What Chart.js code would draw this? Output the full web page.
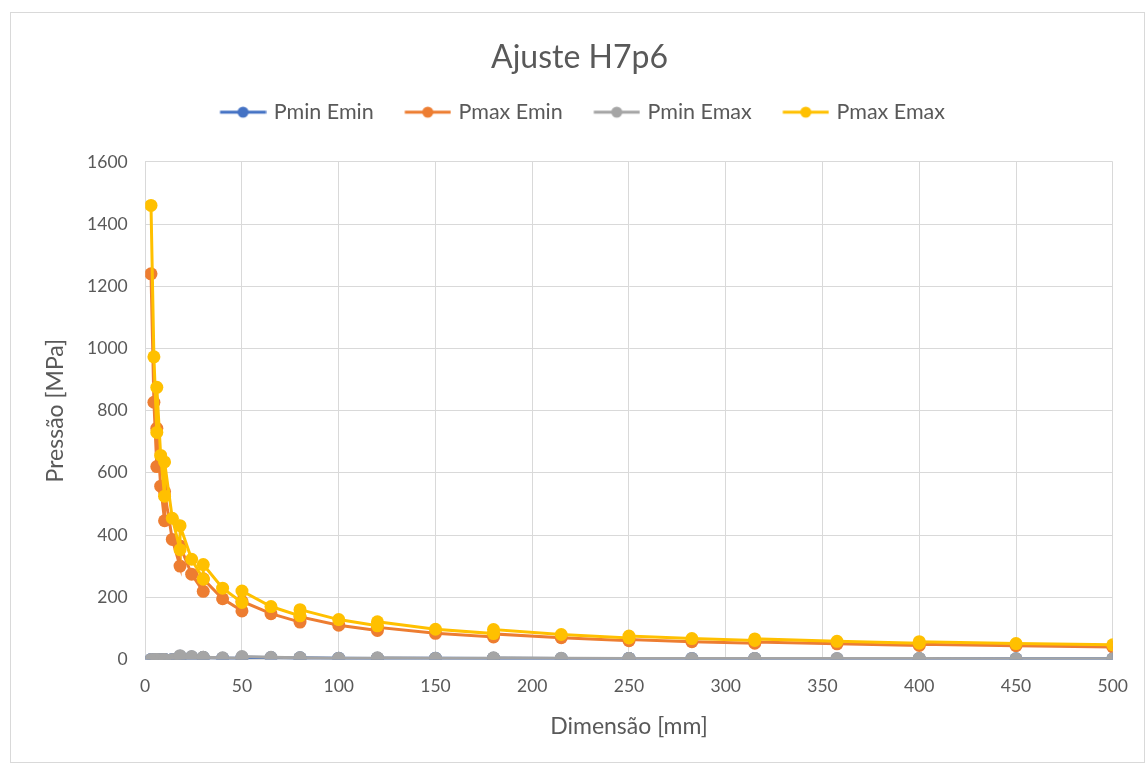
<!DOCTYPE html>
<html>
<head>
<meta charset="utf-8">
<title>Ajuste H7p6</title>
<script src="https://cdn.jsdelivr.net/npm/chart.js@4.4.1/dist/chart.umd.min.js"></script>
<style>
    html, body { margin: 0; padding: 0; background: #ffffff; overflow: hidden; }
    #frame {
        position: absolute; left: 10px; top: 12px;
        width: 1135px; height: 751px;
        border: 1px solid #d9d9d9; box-sizing: border-box;
    }
</style>
</head>
<body>
<div id="frame"><canvas id="fitChart"></canvas></div>
<script>
// Ajuste H7p6 - pressao de montagem vs dimensao nominal
// valores

const dims = [3, 4.5, 6, 6, 8, 10, 10, 14, 18, 18, 24, 30, 30, 40, 50, 50, 65, 80,
    80, 100, 120, 120, 150, 180, 180, 215, 250, 250, 282.5, 315, 315, 357.5, 400, 400, 450, 500];

const pminEmin = [0, 0, 0, 0, 0, 0, 0, 0, 0, 10, 8, 6, 6, 4, 4, 7, 6, 4,
    5, 4, 3, 4, 4, 3, 4, 3, 3, 3, 3, 2, 3, 2, 2, 2, 2, 2];
const pmaxEmin = [1240, 827, 620, 743, 557, 446, 540, 386, 300, 365, 274, 219, 259, 195, 156, 187, 147, 120,
    137, 110, 93, 103, 84, 72, 82, 70, 60, 64, 57, 52, 56, 50, 45, 49, 44, 40];
const pminEmax = [0, 0, 0, 0, 0, 0, 0, 0, 0, 12, 9, 7, 7, 5, 4, 9, 7, 5,
    5, 4, 4, 5, 4, 4, 5, 4, 3, 3, 3, 3, 3, 3, 3, 3, 2, 2];
const pmaxEmax = [1460, 973, 730, 875, 656, 525, 635, 454, 353, 430, 322, 258, 305, 229, 183, 220, 170, 140,
    160, 128, 108, 121, 97, 83, 96, 80, 69, 75, 67, 61, 66, 58, 52, 57, 51, 47];

const seriesNames = ['Pmin Emin', 'Pmax Emin', 'Pmin Emax', 'Pmax Emax'];
const seriesColors = ['#4472c4', '#ed7d31', '#a5a5a5', '#ffc000'];
const seriesValues = [pminEmin, pmaxEmin, pminEmax, pmaxEmax];

const xTicks = [0, 50, 100, 150, 200, 250, 300, 350, 400, 450, 500];
const yTicks = [0, 200, 400, 600, 800, 1000, 1200, 1400, 1600];

const textColor = '#595959';
const gridColor = '#d9d9d9';
const fontFamily = 'Lato, "Open Sans", sans-serif';

// legend icon: short line with a dot, like Excel
// (transparent strip on the left gives a bit more space between items)
function makeIcon(color) {
    const c = document.createElement('canvas');
    c.width = 56;
    c.height = 14;
    const g = c.getContext('2d');
    g.strokeStyle = color;
    g.lineWidth = 3;
    g.beginPath();
    g.moveTo(9.5, 7);
    g.lineTo(55.5, 7);
    g.stroke();
    g.fillStyle = color;
    g.beginPath();
    g.arc(32.5, 7, 5.5, 0, Math.PI * 2);
    g.fill();
    return c;
}
const legendIcons = seriesColors.map(makeIcon);

// extra room under the legend
const legendMargin = {
    id: 'legendMargin',
    beforeInit(chart) {
        const origFit = chart.legend.fit;
        chart.legend.fit = function fit() {
            origFit.bind(chart.legend)();
            this.height += 29;
        };
    }
};

const datasets = seriesNames.map((name, i) => ({
    label: name,
    data: dims.map((d, k) => ({ x: d, y: seriesValues[i][k] })),
    borderColor: seriesColors[i],
    backgroundColor: seriesColors[i],
    pointBackgroundColor: seriesColors[i],
    pointBorderColor: seriesColors[i],
    borderWidth: 3,
    pointRadius: 6.5,
    pointBorderWidth: 0,
    tension: 0,
    order: seriesNames.length - i // last series drawn on top
}));

Chart.defaults.font.family = fontFamily;
Chart.defaults.color = textColor;

const ctx = document.getElementById('fitChart').getContext('2d');
const fitChart = new Chart(ctx, {
    type: 'line',
    data: { datasets: datasets },
    options: {
        responsive: true,
        maintainAspectRatio: false,
        animation: false,
        layout: { padding: { left: 31, right: 27, top: 14, bottom: 18 } },
        plugins: {
            title: {
                display: true,
                text: 'Ajuste H7p6',
                color: textColor,
                font: { size: 32, weight: '400' },
                padding: { top: 11, bottom: 0 }
            },
            legend: {
                position: 'top',
                labels: {
                    usePointStyle: true,
                    pointStyleWidth: 49,
                    padding: 25,
                    color: textColor,
                    font: { size: 21.5 },
                    generateLabels(chart) {
                        const items = Chart.defaults.plugins.legend.labels.generateLabels(chart);
                        items.sort((a, b) => a.datasetIndex - b.datasetIndex);
                        items.forEach(it => { it.pointStyle = legendIcons[it.datasetIndex]; });
                        return items;
                    }
                }
            },
            tooltip: { enabled: false }
        },
        scales: {
            x: {
                type: 'linear',
                min: 0,
                max: 500,
                afterBuildTicks: axis => { axis.ticks = xTicks.map(v => ({ value: v })); },
                grid: { color: gridColor, drawTicks: false },
                border: { color: gridColor },
                ticks: { padding: 16, font: { size: 17.5 }, color: textColor, callback: v => String(v) },
                title: { display: true, text: 'Dimensão [mm]', color: textColor, font: { size: 23 }, padding: { top: 0 } }
            },
            y: {
                min: 0,
                max: 1600,
                afterBuildTicks: axis => { axis.ticks = yTicks.map(v => ({ value: v })); },
                grid: { color: gridColor, drawTicks: false },
                border: { color: gridColor },
                ticks: { padding: 17.5, font: { size: 17.5 }, color: textColor, callback: v => String(v) },
                title: { display: true, text: 'Pressão [MPa]', color: textColor, font: { size: 23 }, padding: { top: 0, bottom: 0 } }
            }
        }
    },
    plugins: [legendMargin]
});
</script>
</body>
</html>
